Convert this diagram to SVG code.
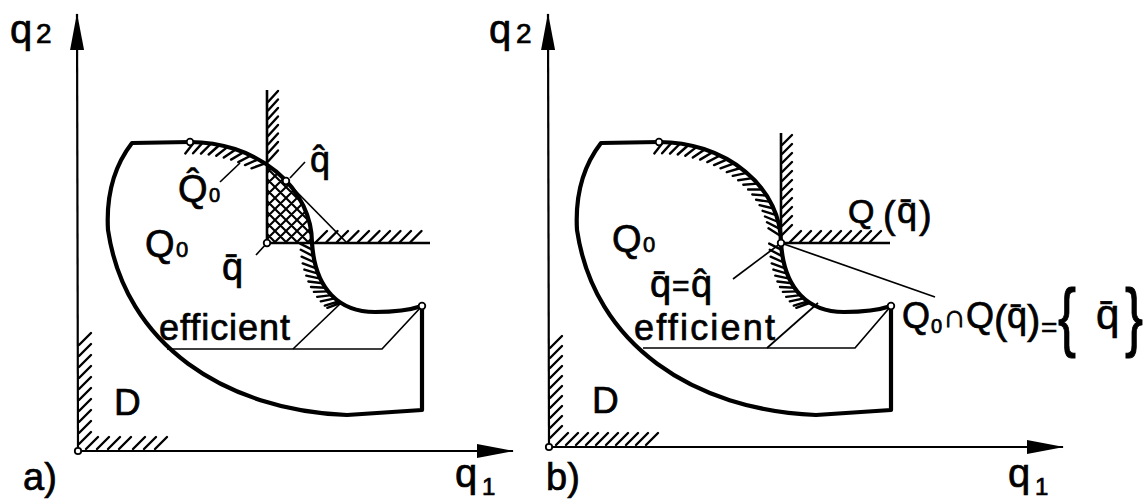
<svg xmlns="http://www.w3.org/2000/svg" xmlns:xlink="http://www.w3.org/1999/xlink" width="1148" height="500" viewBox="0 0 1148 500">
<style>
.t{font-family:"Liberation Sans",Arial,sans-serif;fill:#000;stroke:#000;stroke-width:0.7}
.ax{stroke:#000;stroke-width:2.2;fill:none}
.sh{stroke:#000;stroke-width:4.2;fill:none;stroke-linejoin:round;stroke-linecap:round}
.cn{stroke:#000;stroke-width:2.6;fill:none}
.ld{stroke:#000;stroke-width:1.7;fill:none}
.h{stroke:#000;stroke-width:2.4;fill:none;stroke-linecap:round}
.dot{fill:#fff;stroke:#000;stroke-width:1.8}
</style>
<defs>
<marker id="arr" markerUnits="userSpaceOnUse" markerWidth="38" markerHeight="16" viewBox="0 0 38 16" refX="36" refY="8" orient="auto">
<path d="M0,1 L37,8 L0,15 Z" fill="#000"/>
</marker>
<pattern id="xh" patternUnits="userSpaceOnUse" width="11" height="11">
<path d="M-1,12 L12,-1 M-1,1 L1,-1 M10,12 L12,10 M-1,-1 L12,12 M10,-1 L12,1 M-1,10 L1,12" stroke="#000" stroke-width="2.1"/>
</pattern>
<path id="outline" class="sh" d="M132,143 L190,142 A122,101 0 0 1 312,243 C315,290 340,312 375,312 C395,312 410,310 422,306 L422,410 L347,415 C225,410 125,345 108,230 C106,195 115,165 132,143 Z"/>
<g id="arcHatch1" class="h">
<path d="M194.3,142.1 L185.3,153.4 M202.7,142.6 L193.1,153.3 M211.2,143.5 L201,153.6 M219.5,145 L208.7,154.5 M227.7,146.9 L216.3,155.8 M235.7,149.4 L223.8,157.6 M243.5,152.2 L231.1,159.6 M251,155.5 L238.3,162.1 M258.2,159.3 L245,165.1 M265.1,163.4 L251.5,168.3"/>
</g>
<g id="arcHatch2" class="h">
<path d="M271.6,168 L257.8,172.1 M277.8,172.8 L263.8,175.9 M283.5,178.1 L269.2,180.3 M288.7,183.6 L274.3,184.7 M293.5,189.5 L279.1,189.5 M297.7,195.6 L283.3,194.5 M301.4,201.9 L287.1,199.7 M304.6,208.5 L290.6,205.1 M307.3,215.2 L293.6,210.8 M309.3,222 L296,216.5 M310.8,228.9 L298,222.3 M311.7,236 L299.5,228.3"/>
</g>
<g id="innerHatch" class="h">
<path d="M312.6,249.9 L300.2,243.6 M313.6,256.4 L300.8,249.8 M314.8,262.5 L301.6,256.7 M316.3,268.3 L302.7,263.4 M318.2,273.6 L304.4,269.6 M320.3,278.6 L306.3,275.6 M322.7,283.3 L308.4,281.5 M325.4,287.7 L311,287 M328.3,291.4 L313.9,291.9 M331.5,295.1 L317.2,296.9 M334.8,298.3 L320.8,301.3 M338.6,301.3 L324.8,305.6 M341,302.8 L327.3,307.8"/>
</g>
</defs>
<rect x="0" y="0" width="1148" height="500" fill="#fff"/>

<g id="panel-a">
<g id="axes-a">
<path class="ax" d="M78,451 L77,14" marker-end="url(#arr)"/>
<path class="ax" d="M78,451 L513,451" marker-end="url(#arr)"/>
<path class="h" d="M79,345 L91,333 M79,356 L91,344 M79,367 L91,355 M79,378 L91,366 M79,389 L91,377 M79,400 L91,388 M79,411 L91,399 M79,422 L91,410 M79,433 L91,421 M79,444 L91,432"/>
<path class="h" d="M86,449 L98,437 M97,449 L109,437 M108,449 L120,437 M119,449 L131,437 M133,449 L145,437 M144,449 L156,437 M155,449 L167,437"/>
<circle class="dot" cx="78" cy="451" r="3.2"/>
</g>
<g id="region-a">
<path d="M267,165 A122,101 0 0 1 312,243 L267,243 Z" fill="url(#xh)"/>
<use xlink:href="#outline"/>
<use xlink:href="#arcHatch1"/>
<use xlink:href="#innerHatch"/>
</g>
<g id="cone-a">
<path class="cn" d="M267,90 L267,243 L430,243"/>
<path class="h" d="M268,102 L278,91 M268,110.5 L278,99.5 M268,119 L278,108 M268,127.5 L278,116.5 M268,136 L278,125 M268,144.5 L278,133.5 M268,153 L278,142 M268,161.5 L278,150.5"/>
<path class="h" d="M316,242 L327,231 M326.5,242 L337.5,231 M337,242 L348,231 M347.5,242 L358.5,231 M358,242 L369,231 M368.5,242 L379.5,231 M379,242 L390,231 M389.5,242 L400.5,231 M400,242 L411,231 M410.5,242 L421.5,231"/>
</g>
<g id="connectors-a">
<path class="ld" d="M286,181 L347,243"/>
<path class="ld" d="M290,178 L305,162"/>
<path class="ld" d="M256,255 L267,243"/>
<path class="ld" d="M220,182 L240,163"/>
<path class="ld" d="M167,349 L382,349 L422,306"/>
<path class="ld" d="M293,349 L342,302"/>
</g>
<g id="points-a">
<circle class="dot" cx="190" cy="142" r="3.3"/>
<circle class="dot" cx="286" cy="181" r="3.3"/>
<circle class="dot" cx="267" cy="243" r="3.3"/>
<circle class="dot" cx="422" cy="306" r="3.3"/>
</g>
<g id="labels-a">
<text class="t" x="10" y="43" font-size="40">q<tspan x="36" font-size="28">2</tspan></text>
<text class="t" x="455" y="487" font-size="40">q<tspan x="482" y="495" font-size="24">1</tspan></text>
<text class="t" x="23" y="490" font-size="38">a)</text>
<text class="t" x="178" y="202" font-size="38">Q&#x302;<tspan x="209" font-size="20">0</tspan></text>
<text class="t" x="145" y="257" font-size="38">Q<tspan x="176" font-size="22">0</tspan></text>
<text class="t" x="222" y="280" font-size="38">q&#x304;</text>
<text class="t" x="310" y="172" font-size="36">q&#x302;</text>
<text class="t" x="159" y="340" font-size="36" textLength="131" lengthAdjust="spacing">efficient</text>
<text class="t" x="114" y="415" font-size="37">D</text>
</g>
</g>

<g id="panel-b">
<g id="axes-b">
<path class="ax" d="M549,447 L548,14" marker-end="url(#arr)"/>
<path class="ax" d="M549,447 L1063,447" marker-end="url(#arr)"/>
<path class="h" d="M550,348 L562,336 M550,358 L562,346 M550,368 L562,356 M550,378 L562,366 M550,388 L562,376 M550,398 L562,386 M550,408 L562,396 M550,418 L562,406 M550,428 L562,416 M550,438 L562,426"/>
<path class="h" d="M556,445 L568,433 M566,445 L578,433 M576,445 L588,433 M586,445 L598,433 M596,445 L608,433 M606,445 L618,433 M616,445 L628,433 M626,445 L638,433 M636,445 L648,433 M646,445 L658,433"/>
<circle class="dot" cx="549" cy="447" r="3.2"/>
</g>
<g id="region-b" transform="translate(469,0)">
<use xlink:href="#outline"/>
<use xlink:href="#arcHatch1"/>
<use xlink:href="#arcHatch2"/>
<use xlink:href="#innerHatch"/>
</g>
<g id="cone-b">
<path class="cn" d="M781,133 L781,243 L890,243"/>
<path class="h" d="M782,145 L792,135 M782,154 L792,144 M782,163 L792,153 M782,172 L792,162 M782,181 L792,171 M782,190 L792,180 M782,199 L792,189 M782,208 L792,198 M782,217 L792,207 M782,226 L792,216 M782,235 L792,225"/>
<path class="h" d="M790,242 L801,231 M800,242 L811,231 M810,242 L821,231 M820,242 L831,231 M830,242 L841,231 M840,242 L851,231 M850,242 L861,231 M860,242 L871,231 M870,242 L881,231"/>
</g>
<g id="connectors-b">
<path class="ld" d="M781,243 L935,297"/>
<path class="ld" d="M733,279 L781,243"/>
<path class="ld" d="M643,348 L855,348 L891,306"/>
<path class="ld" d="M767,348 L818,303"/>
</g>
<g id="points-b">
<circle class="dot" cx="659" cy="142" r="3.3"/>
<circle class="dot" cx="781" cy="243" r="3.3"/>
<circle class="dot" cx="891" cy="306" r="3.3"/>
</g>
<g id="labels-b">
<text class="t" x="489" y="43" font-size="40">q<tspan x="516" font-size="28">2</tspan></text>
<text class="t" x="1008" y="487" font-size="40">q<tspan x="1035" y="495" font-size="24">1</tspan></text>
<text class="t" x="546" y="490" font-size="38">b)</text>
<text class="t" x="612" y="252" font-size="38">Q<tspan x="643" font-size="22">0</tspan></text>
<text class="t" x="848" y="223" font-size="34">Q<tspan x="883" y="228" font-size="38">(</tspan><tspan x="897" y="223" font-size="36">q&#x304;</tspan><tspan x="919" y="228" font-size="38">)</tspan></text>
<text class="t" x="650" y="297" font-size="38">q&#x304;<tspan x="672" y="296" font-size="30">=</tspan><tspan x="691" y="297" font-size="38">q&#x302;</tspan></text>
<text class="t" x="902" y="328" font-size="36">Q<tspan x="931" y="333" font-size="20">0</tspan><tspan x="943" y="327" font-size="32">∩</tspan><tspan x="966" y="328" font-size="36">Q</tspan><tspan x="994" y="334" font-size="40">(</tspan><tspan x="1007" y="328" font-size="36">q&#x304;</tspan><tspan x="1027" y="334" font-size="40">)</tspan><tspan x="1041" y="337" font-size="28">=</tspan></text>
<text class="t" transform="translate(1058,342) scale(1,1.4)" x="0" y="0" font-size="54">{</text>
<text class="t" x="1096" y="329" font-size="42">q&#x304;</text>
<text class="t" transform="translate(1125,342) scale(1,1.4)" x="0" y="0" font-size="54">}</text>
<text class="t" x="634" y="340" font-size="36" textLength="141" lengthAdjust="spacing">efficient</text>
<text class="t" x="592" y="413" font-size="37">D</text>
</g>
</g>
</svg>
